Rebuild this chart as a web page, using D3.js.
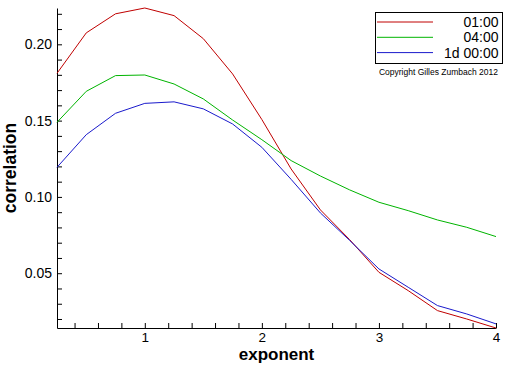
<!DOCTYPE html>
<html>
<head>
    <title>correlation vs exponent</title>
    <script src="https://d3js.org/d3.v7.min.js"></script>
    <style>
        body { margin: 0; background: #fff; }
        text { font-family: "Liberation Sans", Arial, sans-serif; }
    </style>
</head>
<body>
    <div id="chart"></div>

    <script>
        // exponent values on the x axis
        const exponents = [0.25, 0.5, 0.75, 1, 1.25, 1.5, 1.75, 2, 2.25, 2.5, 2.75, 3, 3.25, 3.5, 3.75, 4];

        // correlation, one array per time horizon
        const corr0100 = [0.181, 0.2075, 0.220, 0.2238, 0.2188, 0.2037, 0.1806, 0.1507, 0.1183, 0.0915, 0.072, 0.0506, 0.0386, 0.0255, 0.0200, 0.0141];
        const corr0400 = [0.1489, 0.1692, 0.1795, 0.1799, 0.174, 0.1642, 0.1504, 0.1375, 0.1238, 0.1137, 0.1046, 0.0965, 0.0910, 0.0849, 0.0801, 0.0740];
        const corr1d = [0.1194, 0.1408, 0.1548, 0.1613, 0.1623, 0.1577, 0.1478, 0.1325, 0.1115, 0.0895, 0.0715, 0.0528, 0.0408, 0.0288, 0.0233, 0.0168];

        const seriesNames = ["01:00", "04:00", "1d 00:00"];
        const seriesColors = ["#c00000", "#00b400", "#1a1acc"];

        const xMajorTicks = [1, 2, 3, 4];
        const xMinorTicks = [0.4, 0.6, 0.8, 1.2, 1.4, 1.6, 1.8, 2.2, 2.4, 2.6, 2.8, 3.2, 3.4, 3.6, 3.8];
        const yMajorTicks = [0.05, 0.10, 0.15, 0.20];
        const yMinorTicks = [0.02, 0.03, 0.04, 0.06, 0.07, 0.08, 0.09, 0.11, 0.12, 0.13, 0.14, 0.16, 0.17, 0.18, 0.19, 0.21, 0.22];

        const allSeries = [corr0100, corr0400, corr1d];

        const margin = {top: 8, right: 16, bottom: 38, left: 57};
        const width = 512 - margin.left - margin.right;
        const height = 366 - margin.top - margin.bottom;

        const svg = d3.select("#chart").append("svg")
            .attr("width", 512)
            .attr("height", 366)
          .append("g")
            .attr("transform", "translate(" + margin.left + "," + margin.top + ")");

        const x = d3.scaleLinear()
            .domain([0.25, 4])
            .range([0, width]);

        const y = d3.scaleLinear()
            .domain(d3.extent(allSeries.flat()))
            .range([height, 0]);

        // minor ticks first, majors with labels on top
        svg.append("g")
            .attr("transform", "translate(0," + height + ")")
            .call(d3.axisBottom(x).tickValues(xMinorTicks).tickSize(-5).tickFormat(""))
            .call(g => g.select(".domain").remove());

        svg.append("g")
            .call(d3.axisLeft(y).tickValues(yMinorTicks).tickSize(-5).tickFormat(""))
            .call(g => g.select(".domain").remove());

        svg.append("g")
            .attr("transform", "translate(0," + height + ")")
            .call(d3.axisBottom(x).tickValues(xMajorTicks).tickSize(-5).tickSizeOuter(0).tickPadding(4).tickFormat(d3.format("d")))
            .call(g => g.selectAll("text").attr("font-size", 13.5).attr("font-family", "Liberation Sans, Arial"));

        svg.append("g")
            .call(d3.axisLeft(y).tickValues(yMajorTicks).tickSize(-5).tickSizeOuter(0).tickPadding(5).tickFormat(d3.format(".2f")))
            .call(g => g.selectAll("text").attr("font-size", 14).attr("font-family", "Liberation Sans, Arial"));

        const line = d3.line()
            .x((d, i) => x(exponents[i]))
            .y(d => y(d));

        svg.selectAll(".series")
            .data(allSeries)
            .join("path")
              .attr("class", "series")
              .attr("fill", "none")
              .attr("stroke", (d, i) => seriesColors[i])
              .attr("stroke-width", 1)
              .attr("d", line);

        // axis titles
        svg.append("text")
            .attr("x", width / 2)
            .attr("y", height + 32)
            .attr("text-anchor", "middle")
            .attr("font-size", 17)
            .attr("font-weight", "bold")
            .text("exponent");

        svg.append("text")
            .attr("transform", "translate(" + (-41) + "," + (height / 2) + ") rotate(-90)")
            .attr("text-anchor", "middle")
            .attr("font-size", 17.5)
            .attr("font-weight", "bold")
            .text("correlation");

        // legend
        const legend = svg.append("g")
            .attr("transform", "translate(" + (375.5 - margin.left) + "," + (12.5 - margin.top) + ")");

        legend.append("rect")
            .attr("width", 127)
            .attr("height", 51)
            .attr("fill", "#fff")
            .attr("stroke", "#000");

        const rows = legend.selectAll(".row")
            .data(seriesNames)
            .join("g")
              .attr("class", "row")
              .attr("transform", (d, i) => "translate(0," + (9.5 + i * 15.3) + ")");

        rows.append("line")
            .attr("x1", 1.5)
            .attr("x2", 57.5)
            .attr("stroke", (d, i) => seriesColors[i]);

        rows.append("text")
            .attr("x", 123)
            .attr("y", 5)
            .attr("text-anchor", "end")
            .attr("font-size", 14)
            .text(d => d);

        svg.append("text")
            .attr("x", 498 - margin.left)
            .attr("y", 75 - margin.top)
            .attr("text-anchor", "end")
            .attr("font-size", 8.5)
            .text("Copyright Gilles Zumbach 2012");
    </script>
</body>
</html>
